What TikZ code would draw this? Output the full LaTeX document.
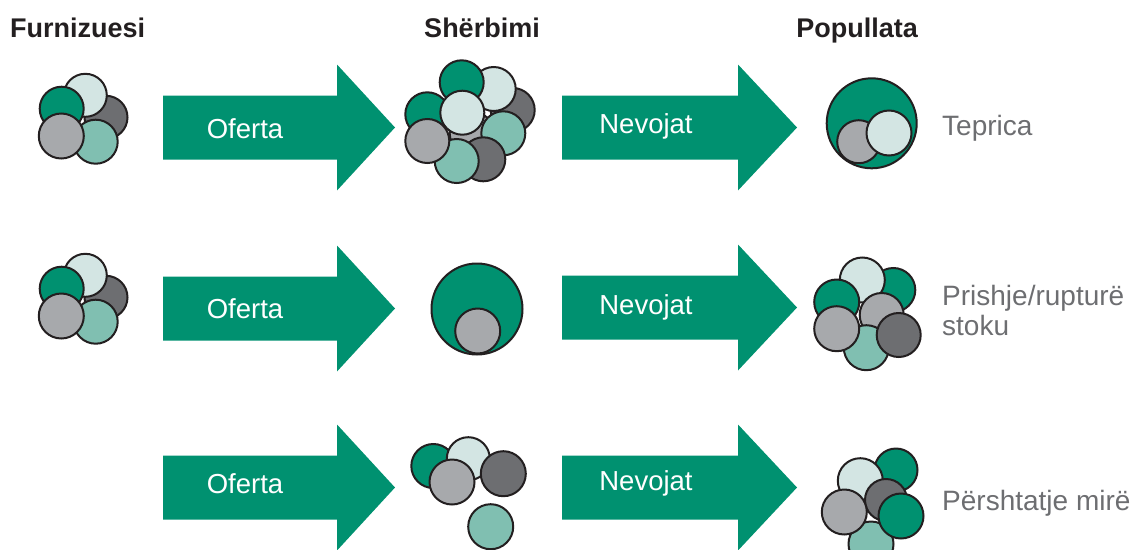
\documentclass[tikz,border=0pt]{standalone}
\usepackage{fontspec}
\setmainfont{Liberation Sans}
\definecolor{cgreen}{RGB}{0,145,112}
\definecolor{cpale}{RGB}{211,229,227}
\definecolor{cdark}{RGB}{109,110,113}
\definecolor{cmid}{RGB}{167,169,172}
\definecolor{cteal}{RGB}{128,191,177}
\definecolor{cline}{RGB}{35,31,32}
\definecolor{ctext}{RGB}{109,110,113}
\tikzset{
  disc/.style={draw=cline, line width=2pt},
  cg/.style={disc, fill=cgreen},
  pl/.style={disc, fill=cpale},
  dk/.style={disc, fill=cdark},
  md/.style={disc, fill=cmid},
  tl/.style={disc, fill=cteal},
  head/.style={font=\bfseries\fontsize{27}{30}\selectfont, text=cline, inner sep=0pt, anchor=base},
  arrowtext/.style={font=\fontsize{27.5}{30}\selectfont, text=white, inner sep=0pt, anchor=base},
  sidetext/.style={font=\fontsize{28}{30}\selectfont, text=ctext, inner sep=0pt, anchor=base west, align=left},
  blockfill/.style={fill=cgreen, draw=none}
}
% block arrow: body from #1 to #2, tip at #3, centred on y=#4
\newcommand\blockarrow[4]{%
  \fill[blockfill] (#1,#4-32) -- (#2,#4-32) -- (#2,#4-63) -- (#3,#4)
    -- (#2,#4+63) -- (#2,#4+32) -- (#1,#4+32) -- cycle;}
% supplier cluster of five discs
\newcommand\supplycluster{%
  \fill[dk] (106,117.3) circle[radius=21.5pt];
  \fill[pl] (85.3,95.3) circle[radius=21.5pt];
  \fill[cg] (61.7,108.7) circle[radius=22pt];
  \fill[tl] (95.7,141.7) circle[radius=22pt];
  \fill[md] (61.3,136) circle[radius=22.5pt];}
\begin{document}
\begin{tikzpicture}[x=1pt,y=-1pt]
\useasboundingbox (0,0) rectangle (1137,549);
\clip (0,0) rectangle (1137,549);

% column headings
\node[head, anchor=base west] (hsup) at (10,37) {Furnizuesi};
\node[head] (hsrv) at (482,37) {Shërbimi};
\node[head] (hpop) at (857,37) {Popullata};

% arrows
\blockarrow{163}{337}{395}{127.5}
\blockarrow{562}{738}{797}{127.5}
\blockarrow{163}{337}{395}{308.5}
\blockarrow{562}{738}{797}{307.5}
\blockarrow{163}{337}{395}{487.5}
\blockarrow{562}{738}{797}{487.5}
\node[arrowtext] (o1) at (245,138) {Oferta};
\node[arrowtext] (n1) at (646,133) {Nevojat};
\node[arrowtext] (o2) at (245,318) {Oferta};
\node[arrowtext] (n2) at (646,314) {Nevojat};
\node[arrowtext] (o3) at (245,493) {Oferta};
\node[arrowtext] (n3) at (646,490) {Nevojat};

% row 1: supplier
\supplycluster
% row 1: service
\fill[dk] (512.7,110) circle[radius=22pt];
\fill[md] (471.7,133.3) circle[radius=22pt];
\fill[tl] (503.3,133.3) circle[radius=22pt];
\fill[pl] (493.7,89) circle[radius=22pt];
\fill[cg] (461.7,82.3) circle[radius=22pt];
\fill[cg] (427.3,114.3) circle[radius=22pt];
\fill[pl] (462.3,112.7) circle[radius=22pt];
\fill[dk] (483.3,159.3) circle[radius=22pt];
\fill[tl] (456.7,161) circle[radius=22pt];
\fill[md] (427.3,141) circle[radius=22pt];
% row 1: population
\fill[cg] (871.7,123.3) circle[radius=45pt];
\fill[md] (858.7,141.7) circle[radius=21.5pt];
\fill[pl] (889,133) circle[radius=22.5pt];
\node[sidetext] (l1) at (942,135) {Teprica};

% row 2: supplier
\begin{scope}[shift={(0,180)}]
  \supplycluster
\end{scope}
% row 2: service
\fill[cg] (477,309) circle[radius=45.5pt];
\fill[md] (477.7,331) circle[radius=22.5pt];
% row 2: population
\fill[cg] (893.3,290) circle[radius=22pt];
\fill[pl] (862.3,280) circle[radius=22.5pt];
\fill[md] (881.7,315) circle[radius=22pt];
\fill[cg] (836.7,302) circle[radius=22.5pt];
\fill[tl] (866.3,347.7) circle[radius=22.5pt];
\fill[md] (836.7,328.7) circle[radius=22.5pt];
\fill[dk] (898.7,335) circle[radius=22pt];
\node[sidetext] (l2) at (942,305) {Prishje/rupturë};
\node[sidetext] (l2b) at (942,335) {stoku};

% row 3: service
\fill[cg] (433.3,466) circle[radius=22pt];
\fill[pl] (468.3,458.7) circle[radius=21.5pt];
\fill[md] (452,482) circle[radius=22.5pt];
\fill[dk] (503.3,473.7) circle[radius=22.5pt];
\fill[tl] (490.7,526.7) circle[radius=22.5pt];
% row 3: population
\fill[cg] (896,470) circle[radius=21.5pt];
\fill[pl] (860.3,480.7) circle[radius=22.5pt];
\fill[dk] (886,500) circle[radius=21pt];
\fill[tl] (871,544) circle[radius=22.5pt];
\fill[md] (844.3,512) circle[radius=22.5pt];
\fill[cg] (901,516) circle[radius=22.5pt];
\node[sidetext] (l3) at (942,510) {Përshtatje mirë};
\end{tikzpicture}
\end{document}
